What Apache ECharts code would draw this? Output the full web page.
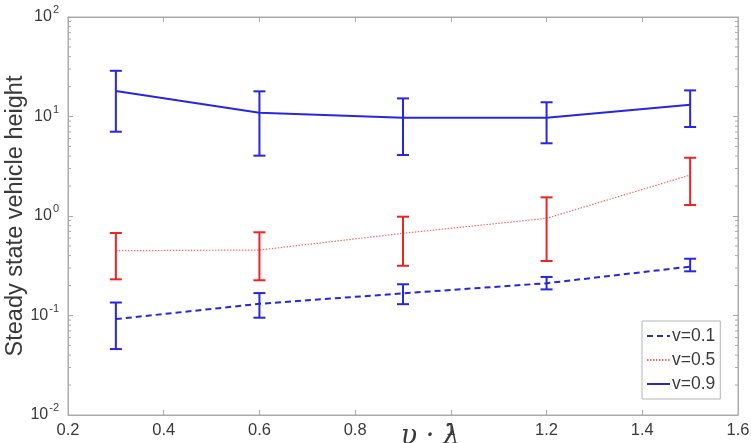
<!DOCTYPE html>
<html>
<head>
<meta charset="utf-8">
<script src="https://cdn.jsdelivr.net/npm/echarts@6/dist/echarts.min.js"></script>
<style>
  html, body { margin: 0; padding: 0; background: #fff; }
  #chart { width: 751px; height: 443px; }
</style>
</head>
<body>
<div id="chart"></div>
<script>
// x positions (v·λ)
var xVals = [0.3, 0.6, 0.9, 1.2, 1.5];
// v=0.1
var meanV01 = [0.092, 0.131, 0.167, 0.211, 0.31];
var lowV01 = [0.046, 0.095, 0.13, 0.183, 0.278];
var highV01 = [0.135, 0.168, 0.206, 0.244, 0.372];
// v=0.5
var meanV05 = [0.448, 0.455, 0.67, 0.948, 2.58];
var lowV05 = [0.231, 0.226, 0.316, 0.353, 1.29];
var highV05 = [0.675, 0.686, 0.984, 1.54, 3.85];
// v=0.9
var meanV09 = [18.0, 10.9, 9.7, 9.7, 13.1];
var lowV09 = [7.03, 4.04, 4.1, 5.38, 7.84];
var highV09 = [28.8, 17.9, 15.2, 13.9, 18.3];

var seriesNames = ['v=0.1', 'v=0.5', 'v=0.9'];
var xTicks = [0.2, 0.4, 0.6, 0.8, 1, 1.2, 1.4, 1.6];

var blue = '#2626e4';
var red = '#ec2424';
var axisColor = '#aaaaaa';
var textColor = '#3a3a3a';

function pairs(xs, ys) {
	var out = [];
	for (var i = 0; i < xs.length; i++) out.push([xs[i], ys[i]]);
	return out;
}
function triples(xs, lo, hi) {
	var out = [];
	for (var i = 0; i < xs.length; i++) out.push([xs[i], lo[i], hi[i]]);
	return out;
}

// error bar with caps
function errRenderer(color) {
	return function (params, api) {
		var x = api.value(0);
		var lo = api.coord([x, api.value(1)]);
		var hi = api.coord([x, api.value(2)]);
		var w = 6;
		var st = { stroke: color, lineWidth: 2 };
		return {
			type: 'group',
			children: [
				{ type: 'line', shape: { x1: lo[0], y1: lo[1], x2: hi[0], y2: hi[1] }, style: st },
				{ type: 'line', shape: { x1: lo[0] - w, y1: lo[1], x2: lo[0] + w, y2: lo[1] }, style: st },
				{ type: 'line', shape: { x1: hi[0] - w, y1: hi[1], x2: hi[0] + w, y2: hi[1] }, style: st }
			]
		};
	};
}

// minor log ticks (2..9 per decade), left and right edges
var minorTicks = [];
for (var d = -2; d < 2; d++) {
	for (var k = 2; k <= 9; k++) minorTicks.push([k * Math.pow(10, d)]);
}
function minorRenderer(params, api) {
	var v = api.value(0);
	var l = api.coord([0.2, v]);
	var r = api.coord([1.6, v]);
	var st = { stroke: axisColor, lineWidth: 1 };
	return {
		type: 'group',
		children: [
			{ type: 'line', shape: { x1: l[0], y1: l[1], x2: l[0] + 3, y2: l[1] }, style: st },
			{ type: 'line', shape: { x1: r[0] - 3, y1: r[1], x2: r[0], y2: r[1] }, style: st }
		]
	};
}

var chart = echarts.init(document.getElementById('chart'));
var option = {
	animation: false,
	backgroundColor: '#fff',
	grid: {
		left: 68, right: 13, top: 17, bottom: 28,
		outerBoundsMode: 'none',
		show: true, borderColor: axisColor, borderWidth: 1
	},
	legend: {
		data: seriesNames,
		orient: 'vertical',
		left: 642,
		top: 321,
		padding: [6, 5, 6, 4],
		itemGap: 6,
		itemWidth: 23,
		itemHeight: 18,
		itemStyle: { opacity: 0 },
		backgroundColor: '#fff',
		borderColor: '#b5b5b5',
		borderWidth: 1,
		textStyle: { fontFamily: 'Liberation Sans', fontSize: 17.5, color: textColor, padding: [0, 0, 0, -3] }
	},
	xAxis: [{
		type: 'value',
		min: 0.2,
		max: 1.6,
		interval: 0.2,
		name: 'υ · λ',
		nameLocation: 'middle',
		nameGap: 8,
		nameMoveOverlap: false,
		nameTextStyle: { fontFamily: 'DejaVu Serif', fontStyle: 'italic', fontSize: 27, color: textColor, padding: [0, 0, 0, 55] },
		axisLine: { lineStyle: { color: axisColor } },
		axisTick: { inside: true, length: 5, lineStyle: { color: axisColor } },
		axisLabel: {
			fontFamily: 'Liberation Sans', fontSize: 16.5, color: textColor, margin: 7,
			formatter: function (v) { return xTicks.indexOf(v) >= 0 ? String(v) : ''; }
		},
		splitLine: { show: false }
	}, {
		type: 'value',
		position: 'top',
		min: 0.2,
		max: 1.6,
		interval: 0.2,
		axisLine: { lineStyle: { color: axisColor } },
		axisTick: { inside: true, length: 5, lineStyle: { color: axisColor } },
		axisLabel: { show: false },
		splitLine: { show: false }
	}],
	yAxis: [{
		type: 'log',
		logBase: 10,
		min: 0.01,
		max: 100,
		name: 'Steady state vehicle height',
		nameLocation: 'middle',
		nameGap: 40,
		nameMoveOverlap: false,
		nameTextStyle: { fontFamily: 'Liberation Sans', fontSize: 23.5, color: textColor },
		axisLine: { lineStyle: { color: axisColor } },
		axisTick: { inside: true, length: 5, lineStyle: { color: axisColor } },
		axisLabel: {
			margin: 9,
			fontFamily: 'Liberation Sans', fontSize: 16, color: textColor,
			formatter: function (v) {
				var e = Math.round(Math.log10(v));
				return '10{e|' + e + '}';
			},
			rich: { e: { fontFamily: 'Liberation Sans', fontSize: 11, color: textColor, padding: [0, 0, 14, 1] } }
		},
		splitLine: { show: false }
	}, {
		type: 'log',
		logBase: 10,
		min: 0.01,
		max: 100,
		position: 'right',
		axisLine: { lineStyle: { color: axisColor } },
		axisTick: { inside: true, length: 5, lineStyle: { color: axisColor } },
		axisLabel: { show: false },
		splitLine: { show: false }
	}],
	series: [
		{
			name: 'v=0.1', type: 'line', data: pairs(xVals, meanV01), symbol: 'none',
			lineStyle: { color: blue, width: 2, type: [6, 4] }, itemStyle: { color: blue }, z: 3
		},
		{
			name: 'v=0.5', type: 'line', data: pairs(xVals, meanV05), symbol: 'none',
			lineStyle: { color: '#f06a6a', width: 1.2, type: [1.5, 1.5] }, itemStyle: { color: '#f06a6a' }, z: 3
		},
		{
			name: 'v=0.9', type: 'line', data: pairs(xVals, meanV09), symbol: 'none',
			lineStyle: { color: blue, width: 2 }, itemStyle: { color: blue }, z: 3
		},
		{ name: 'err01', type: 'custom', renderItem: errRenderer(blue), data: triples(xVals, lowV01, highV01), z: 4, silent: true },
		{ name: 'err05', type: 'custom', renderItem: errRenderer(red), data: triples(xVals, lowV05, highV05), z: 4, silent: true },
		{ name: 'err09', type: 'custom', renderItem: errRenderer(blue), data: triples(xVals, lowV09, highV09), z: 4, silent: true },
		{ name: 'minor', type: 'custom', renderItem: minorRenderer, data: minorTicks, encode: { y: 0 }, z: 2, silent: true }
	]
};
chart.setOption(option);
</script>
</body>
</html>
